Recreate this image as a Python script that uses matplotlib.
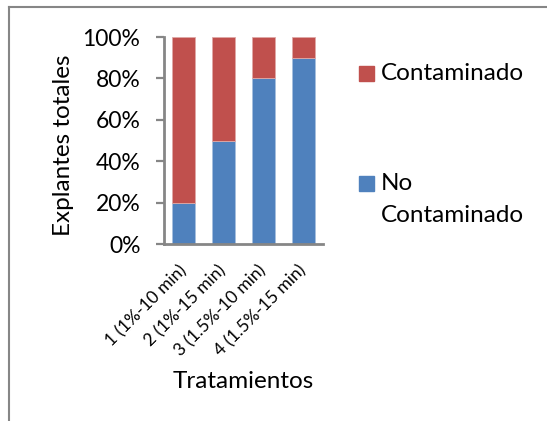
import matplotlib
matplotlib.use("Agg")
import matplotlib.pyplot as plt
from matplotlib.patches import Rectangle
import numpy as np

categories = ["1 (1%-10 min)", "2 (1%-15 min)", "3 (1.5%-10 min)", "4 (1.5%-15 min)"]
no_contaminado = [20, 50, 80, 90]
contaminado = [80, 50, 20, 10]
yticks = [0, 20, 40, 60, 80, 100]

blue = "#4F81BD"
red = "#C0504D"
grey = "#868686"

plt.rcParams["font.family"] = ["Lato", "DejaVu Sans"]

fig = plt.figure(figsize=(5.47, 4.21), dpi=100)
ax = fig.add_axes([164 / 547, 1 - 244 / 421, 159 / 547, 207 / 421])

x = np.arange(len(categories))
w = 0.58
ax.bar(x, no_contaminado, width=w, color=blue, edgecolor="#A7C0DE", linewidth=0.6)
ax.bar(x, contaminado, width=w, bottom=no_contaminado, color=red, edgecolor="#E0A9A7", linewidth=0.6)

ax.set_xlim(-0.5, len(categories) - 0.5)
ax.set_ylim(0, 100)
ax.set_yticks(yticks)
ax.set_yticklabels([f"{v}%" for v in yticks], fontsize=16.5)
ax.set_xticks(x)
ax.set_xticklabels(categories, rotation=45, ha="right", va="center", rotation_mode="anchor", fontsize=12.5)
ax.tick_params(axis="x", length=0, pad=17)
ax.tick_params(axis="y", length=6, width=1.6, color=grey, pad=11)

for s in ["top", "right"]:
    ax.spines[s].set_visible(False)
for s in ["left", "bottom"]:
    ax.spines[s].set_color(grey)
    ax.spines[s].set_linewidth(2)

ax.set_ylabel("Explantes totales", fontsize=17.5)
ax.yaxis.set_label_coords(-0.566, 0.478)
fig.text(243 / 547, 1 - 381 / 421, "Tratamientos", fontsize=17.5, ha="center", va="center")

# legend entries
fig.text(381 / 547, 1 - 73 / 421, "Contaminado", fontsize=17.5, va="center")
fig.text(381 / 547, 1 - 183 / 421, "No", fontsize=17.5, va="center")
fig.text(381 / 547, 1 - 215 / 421, "Contaminado", fontsize=17.5, va="center")
fig.patches.append(Rectangle((359 / 547, 1 - 81 / 421), 15 / 547, 15 / 421,
                             transform=fig.transFigure, color=red, figure=fig))
fig.patches.append(Rectangle((359 / 547, 1 - 191 / 421), 15 / 547, 15 / 421,
                             transform=fig.transFigure, color=blue, figure=fig))

# chart area border (left and top)
fig.add_artist(plt.Line2D([9 / 547, 9 / 547], [0, 1 - 7 / 421], transform=fig.transFigure,
                          color=grey, linewidth=1.5))
fig.add_artist(plt.Line2D([9 / 547, 1], [1 - 7 / 421, 1 - 7 / 421], transform=fig.transFigure,
                          color=grey, linewidth=1.5))

fig.savefig("out.png", dpi=100)
